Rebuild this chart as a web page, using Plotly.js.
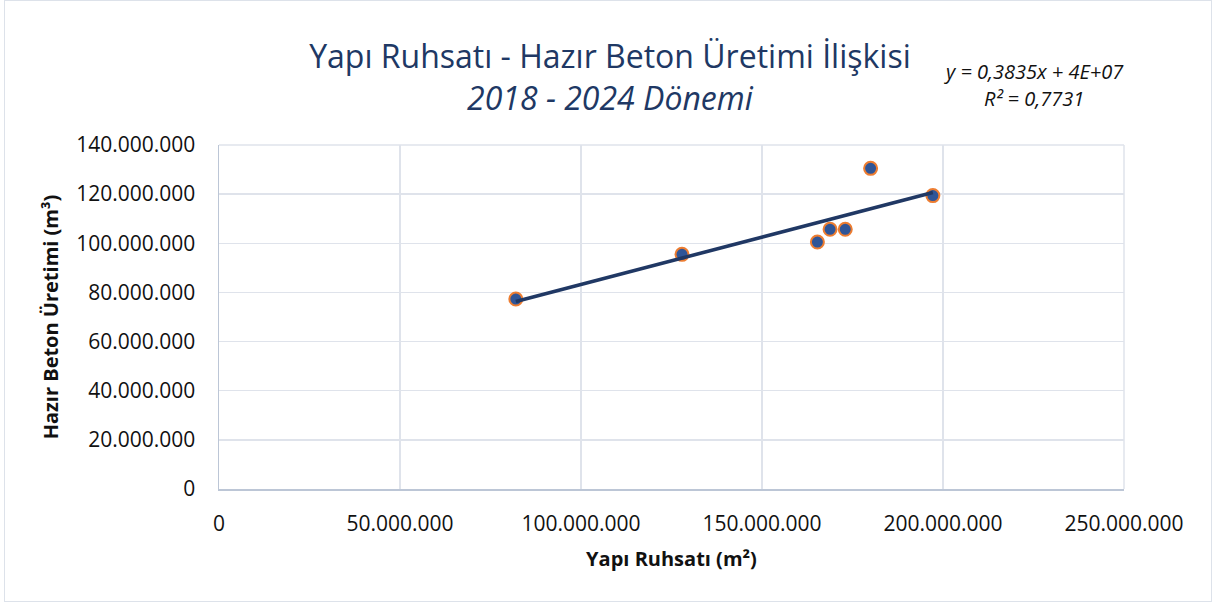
<!DOCTYPE html>
<html>
<head>
<meta charset="utf-8">
<script src="https://cdn.plot.ly/plotly-3.0.1.min.js"></script>
<style>
  html, body { margin: 0; padding: 0; background: #fff; }
  #wrap { position: relative; width: 1215px; height: 604px; }
  #chart { position: absolute; left: 0; top: 0; width: 1215px; height: 604px; }
  #frame { position: absolute; left: 4px; top: 0px; width: 1208px; height: 602px; border: 1px solid #dde2ea; box-sizing: border-box; pointer-events: none; }
</style>
</head>
<body>
<div id="wrap"><div id="chart"></div><div id="frame"></div></div>
<script>
// Data
const yapiRuhsati = [82.0e6, 127.9e6, 165.3e6, 168.8e6, 173.0e6, 180.0e6, 197.2e6];
const hazirBeton  = [77.3e6, 95.5e6, 100.5e6, 105.7e6, 105.7e6, 130.5e6, 119.4e6];
const xTickVals = [0, 50e6, 100e6, 150e6, 200e6, 250e6];
const yTickVals = [0, 20e6, 40e6, 60e6, 80e6, 100e6, 120e6, 140e6];
const titleLine1 = 'Yapı Ruhsatı - Hazır Beton Üretimi İlişkisi';
const titleLine2 = '2018 - 2024 Dönemi';
const equationText = 'y = 0,3835x + 4E+07';
const r2Text = 'R² = 0,7731';

// Linear least-squares trendline from the data
const n = yapiRuhsati.length;
const mx = yapiRuhsati.reduce((a, b) => a + b, 0) / n;
const my = hazirBeton.reduce((a, b) => a + b, 0) / n;
let sxy = 0, sxx = 0;
for (let i = 0; i < n; i++) {
  sxy += (yapiRuhsati[i] - mx) * (hazirBeton[i] - my);
  sxx += (yapiRuhsati[i] - mx) ** 2;
}
const slope = sxy / sxx;
const intercept = my - slope * mx;
const xMin = Math.min(...yapiRuhsati), xMax = Math.max(...yapiRuhsati);
const trendX = [xMin, xMax];
const trendY = trendX.map(v => slope * v + intercept);

const FONT = 'Open Sans, Lato, sans-serif';

const traces = [
  {
    x: yapiRuhsati, y: hazirBeton, type: 'scatter', mode: 'markers',
    marker: { size: 13, color: '#2f5597', line: { color: '#ed7d31', width: 2 } },
    hoverinfo: 'x+y'
  },
  {
    x: trendX, y: trendY, type: 'scatter', mode: 'lines',
    line: { color: '#203864', width: 3.6 },
    hoverinfo: 'skip'
  }
];

const axisCommon = {
  showgrid: true, gridcolor: '#dfe3eb', gridwidth: 1.5,
  showline: true, linecolor: '#bcc6d6', linewidth: 1.5,
  zeroline: false, ticks: '', tickformat: ',d',
  tickfont: { family: FONT, size: 21, color: '#111' },
  fixedrange: true
};

const layout = {
  width: 1215, height: 604,
  paper_bgcolor: 'rgba(0,0,0,0)', plot_bgcolor: '#fff',
  separators: ',.',
  showlegend: false,
  margin: { l: 219, r: 91, t: 145, b: 115 },
  title: {
    text: titleLine1 + '<br><i>' + titleLine2 + '</i>',
    font: { family: FONT, size: 32, color: '#203864' },
    x: 0.502, xanchor: 'center',
    y: 0.887, yref: 'container', yanchor: 'middle'
  },
  xaxis: Object.assign({}, axisCommon, {
    range: [0, 250e6], tickvals: xTickVals,
    ticklabelstandoff: 15,
    title: { text: '<b>Yapı Ruhsatı (m²)</b>', font: { family: FONT, size: 20, color: '#111' }, standoff: 16 }
  }),
  yaxis: Object.assign({}, axisCommon, {
    range: [0, 140e6], tickvals: yTickVals,
    ticklabelstandoff: 18,
    title: { text: '<b>Hazır Beton Üretimi (m³)</b>', font: { family: FONT, size: 20, color: '#111' }, standoff: 12 }
  }),
  annotations: [
    { text: '<i>' + equationText + '</i>', xref: 'paper', yref: 'paper', x: 0.901, y: 1.215,
      xanchor: 'center', yanchor: 'middle', showarrow: false,
      font: { family: FONT, size: 20, color: '#111' } },
    { text: '<i>' + r2Text + '</i>', xref: 'paper', yref: 'paper', x: 0.901, y: 1.134,
      xanchor: 'center', yanchor: 'middle', showarrow: false,
      font: { family: FONT, size: 20, color: '#111' } }
  ],
  shapes: [
    { type: 'line', xref: 'paper', yref: 'paper', x0: 1, x1: 1, y0: 0, y1: 1,
      line: { color: '#dfe3eb', width: 1.5 }, layer: 'below' },
    { type: 'line', xref: 'paper', yref: 'paper', x0: 0, x1: 1, y0: 1, y1: 1,
      line: { color: '#dfe3eb', width: 1.5 }, layer: 'below' }
  ]
};

Plotly.newPlot('chart', traces, layout, { displayModeBar: false, staticPlot: true });
</script>
</body>
</html>
